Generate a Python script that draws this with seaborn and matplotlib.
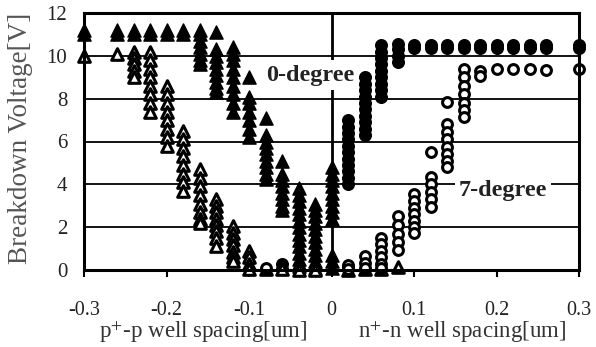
import matplotlib
matplotlib.use("Agg")
import matplotlib.pyplot as plt
import seaborn as sns
import pandas as pd

# ---- measured breakdown voltages, grouped by well spacing ----
# 0-degree implant, p+-p side (filled triangles)
tri0_x = [-0.30, -0.26, -0.24, -0.22, -0.20, -0.18, -0.16, -0.14, -0.12,
          -0.10, -0.08, -0.06, -0.04, -0.02, 0.00]
tri0_v = [
    [11.2, 11.0], [11.2, 11.0], [11.2, 11.0], [11.2, 11.0], [11.2, 11.0],
    [11.2, 11.0],
    [11.2, 11.0, 10.7, 10.4, 10.1, 9.8, 9.6],
    [11.1, 10.3, 10.0, 9.7, 9.4, 9.1, 8.8, 8.5, 8.3],
    [10.4, 10.1, 9.8, 9.4, 9.0, 8.6, 8.2, 7.8, 7.4],
    [9.0, 8.1, 7.8, 7.4, 7.0, 6.6, 6.2],
    [7.1, 6.3, 6.0, 5.7, 5.4, 5.1, 4.8, 4.5, 4.25],
    [5.1, 4.5, 4.2, 3.9, 3.6, 3.3, 3.0, 2.8],
    [3.85, 3.5, 3.2, 2.9, 2.6, 2.3, 2.0, 1.7, 1.4, 1.1, 0.8, 0.5, 0.2],
    [3.1, 2.8, 2.5, 2.2, 1.9, 1.6, 1.3, 1.0, 0.7, 0.4, 0.1],
    [4.8, 4.5, 4.2, 3.9, 3.6, 3.3, 3.0, 2.7, 2.4, 0.7, 0.4, 0.1],
]

# 0-degree implant, n+-n side (filled circles)
cir0_x = [-0.06, -0.04, -0.02, 0.02, 0.04, 0.06, 0.08, 0.10, 0.12, 0.14,
          0.16, 0.18, 0.20, 0.22, 0.24, 0.26, 0.30]
cir0_v = [
    [0.3, 0.05], [0.05], [0.05],
    [7.0, 6.7, 6.4, 6.1, 5.8, 5.5, 5.2, 4.9, 4.6, 4.3, 4.0, 0.15],
    [9.0, 8.7, 8.4, 8.1, 7.8, 7.5, 7.2, 6.9, 6.6, 6.3],
    [10.5, 10.2, 9.9, 9.6, 9.3, 9.0, 8.7, 8.4, 8.1],
    [10.55, 10.3, 10.0, 9.7],
    [10.5, 10.35], [10.5, 10.35], [10.5, 10.35], [10.5, 10.35],
    [10.5, 10.35], [10.5, 10.35], [10.5, 10.35], [10.5, 10.35],
    [10.5, 10.35], [10.5, 10.35],
]

# 7-degree implant, p+-p side (open triangles)
tri7_x = [-0.30, -0.26, -0.24, -0.22, -0.20, -0.18, -0.16, -0.14, -0.12,
          -0.10, -0.08, -0.06, -0.04, -0.02, 0.02, 0.04, 0.06, 0.08]
tri7_v = [
    [10.0], [10.1],
    [10.2, 9.9, 9.6, 9.3, 9.0],
    [10.2, 9.8, 9.4, 9.0, 8.6, 8.2, 7.8, 7.4],
    [8.6, 8.2, 7.8, 7.4, 7.0, 6.6, 6.2, 5.8],
    [6.5, 6.1, 5.7, 5.3, 4.9, 4.5, 4.1, 3.7],
    [4.7, 4.3, 3.9, 3.5, 3.1, 2.7, 2.4, 2.2],
    [3.3, 3.0, 2.7, 2.4, 2.1, 1.8, 1.5, 1.1],
    [2.05, 1.75, 1.45, 1.15, 0.85, 0.6, 0.4],
    [0.9, 0.6, 0.3, 0.05],
    [0.05], [0.05], [0.0], [0.0], [0.0], [0.05], [0.05], [0.15],
]

# 7-degree implant, n+-n side (open circles)
cir7_x = [-0.08, 0.02, 0.04, 0.06, 0.08, 0.10, 0.12, 0.14, 0.16, 0.18,
          0.20, 0.22, 0.24, 0.26, 0.30]
cir7_v = [
    [0.1],
    [0.25, 0.05],
    [0.65, 0.35, 0.1],
    [1.5, 1.2, 0.9, 0.6, 0.3, 0.1],
    [2.5, 2.1, 1.7, 1.3, 0.95],
    [3.55, 3.2, 2.9, 2.6, 2.3, 2.0, 1.75],
    [5.5, 4.35, 4.0, 3.65, 3.3, 2.95],
    [7.85, 6.8, 6.45, 6.1, 5.75, 5.4, 5.1, 4.8],
    [9.4, 9.0, 8.6, 8.2, 7.8, 7.45, 7.15],
    [9.3, 9.05],
    [9.4], [9.4], [9.4], [9.35], [9.4],
]

x_ticks = [-0.3, -0.2, -0.1, 0, 0.1, 0.2, 0.3]
x_tick_labels = ["-0.3", "-0.2", "-0.1", "0", "0.1", "0.2", "0.3"]
y_ticks = [0, 2, 4, 6, 8, 10, 12]


def long_form(xs, vals):
    rows = [(x, v) for x, col in zip(xs, vals) for v in col]
    return pd.DataFrame(rows, columns=["spacing", "voltage"])


sns.set_theme(style="white")
plt.rcParams["font.family"] = ["Liberation Serif", "DejaVu Serif"]
plt.rcParams["mathtext.fontset"] = "stix"

fig = plt.figure(figsize=(5.96, 3.47), dpi=100)
ax = fig.add_axes([84 / 596, 1 - 270 / 347, 495 / 596, 257 / 347])

# reference lines
for yv in y_ticks[1:-1]:
    ax.axhline(yv, color="black", lw=1.3, zorder=1)
ax.axvline(0, color="black", lw=2.0, zorder=1)

common = dict(ax=ax, legend=False, clip_on=False)
sns.scatterplot(data=long_form(tri0_x, tri0_v), x="spacing", y="voltage",
                marker="^", s=90, color="black", edgecolor="black",
                linewidth=1.0, zorder=4, **common)
sns.scatterplot(data=long_form(cir0_x, cir0_v), x="spacing", y="voltage",
                marker="o", s=70, color="black", edgecolor="black",
                linewidth=1.0, zorder=4, **common)
sns.scatterplot(data=long_form(tri7_x, tri7_v), x="spacing", y="voltage",
                marker="^", s=70, color="white", edgecolor="black",
                linewidth=2.2, zorder=5, **common)
sns.scatterplot(data=long_form(cir7_x, cir7_v), x="spacing", y="voltage",
                marker="o", s=50, color="white", edgecolor="black",
                linewidth=2.2, zorder=5, **common)

ax.set_xlim(-0.3, 0.3)
ax.set_ylim(0, 12)
ax.set_xticks(x_ticks)
ax.set_xticklabels(x_tick_labels)
ax.set_yticks(y_ticks)
ax.set_xlabel("")
ax.set_ylabel("")
ax.tick_params(axis="x", direction="out", length=5, width=1.5,
               color="black", pad=17, labelsize=14.5, labelcolor="#222222",
               bottom=True)
ax.tick_params(axis="y", length=0, pad=12, labelsize=15,
               labelcolor="#222222")
for sp in ax.spines.values():
    sp.set_visible(True)
    sp.set_color("black")
    sp.set_linewidth(2.2)
    sp.set_zorder(6)

# series annotations
ax.text(-0.026, 9.1, "0-degree", fontsize=17.5, fontweight="bold",
        color="#222222", ha="center", va="center", zorder=3,
        bbox=dict(facecolor="white", edgecolor="none", pad=3))
ax.text(0.208, 3.7, "7-degree", fontsize=17.5, fontweight="bold",
        color="#222222", ha="center", va="center", zorder=3,
        bbox=dict(facecolor="white", edgecolor="none", pad=3))

# axis titles
fig.text(203 / 596, 1 - 332 / 347, "p$^{+}$-p well spacing[um]",
         fontsize=16.5, color="#333333", ha="center", va="center")
fig.text(462 / 596, 1 - 332 / 347, "n$^{+}$-n well spacing[um]",
         fontsize=16.5, color="#333333", ha="center", va="center")
fig.text(21 / 596, 1 - 138 / 347, "Breakdown Voltage[V]", fontsize=19.5,
         color="#555555", rotation=90, ha="center", va="center")

fig.savefig("out.png", dpi=100)
